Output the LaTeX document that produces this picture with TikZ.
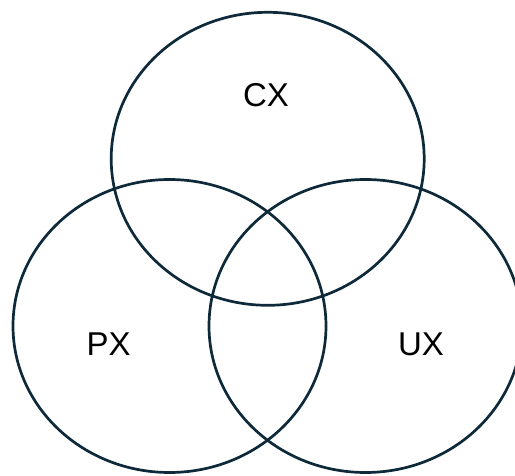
\documentclass[tikz,border=0pt]{standalone}
\usepackage{fontspec}
\setmainfont{Liberation Sans}
\usetikzlibrary{shapes.geometric}
\definecolor{ring}{RGB}{14,42,58}
\begin{document}
\begin{tikzpicture}[x=1pt,y=-1pt,
  set/.style={ellipse,draw=ring,line width=2.7pt,inner sep=0pt,minimum width=313pt,minimum height=293pt},
  lbl/.style={font=\fontsize{33}{33}\selectfont,text=black,inner sep=0pt}]
\useasboundingbox (0,0) rectangle (515,476);
\node[set] (cx) at (267.7,158.8) {};
\node[set] (px) at (169.5,326) {};
\node[set] (ux) at (365.5,326) {};
\node[lbl] at (266,94.7) (tcx) {CX};
\node[lbl] at (108.7,344.5) (tpx) {PX};
\node[lbl] at (421,344.7) (tux) {UX};
\end{tikzpicture}
\end{document}
